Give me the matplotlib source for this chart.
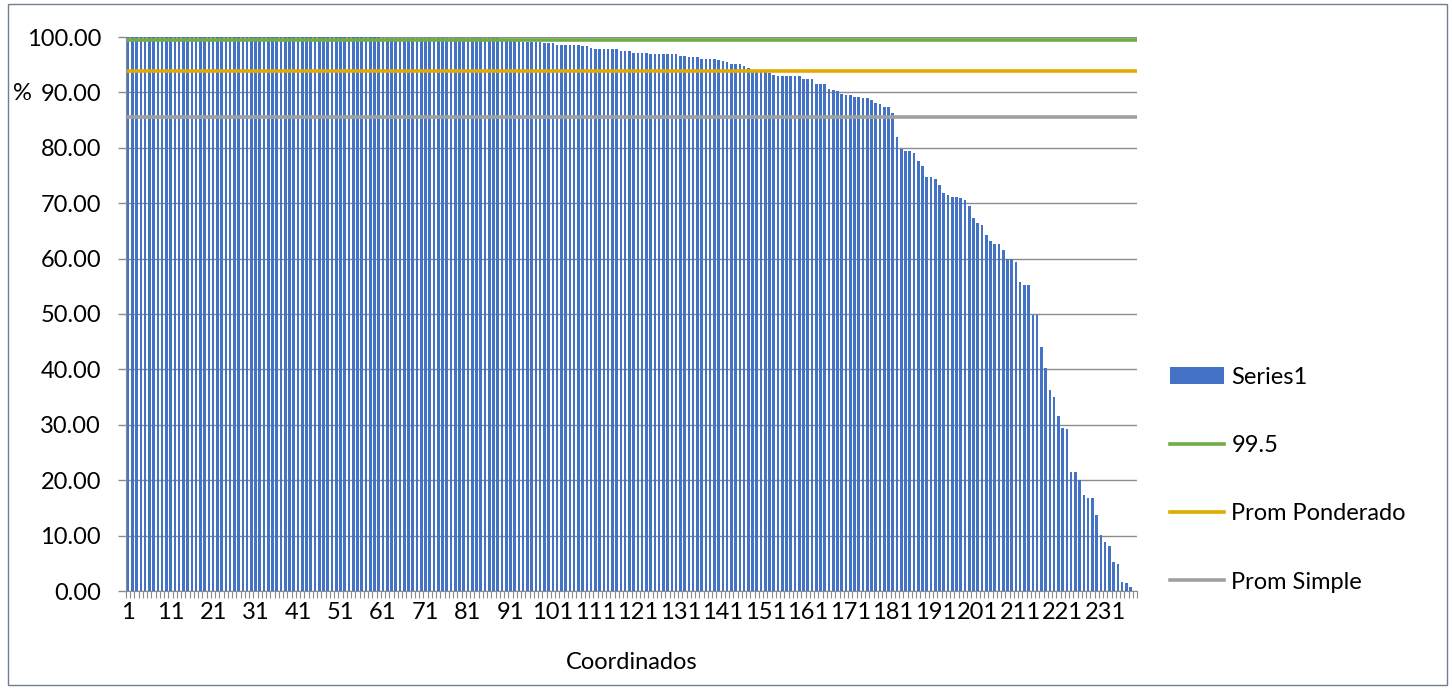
import matplotlib.pyplot as plt
from matplotlib.patches import Rectangle
from matplotlib.ticker import FixedLocator, FormatStrFormatter

plt.rcParams['font.family'] = ['Lato', 'DejaVu Sans']

# porcentaje por coordinado (ordenado de mayor a menor)
valores = [
    100.0, 100.0, 100.0, 100.0, 100.0, 100.0, 100.0, 100.0, 100.0, 100.0,
    100.0, 100.0, 100.0, 100.0, 100.0, 100.0, 100.0, 100.0, 100.0, 100.0,
    100.0, 100.0, 100.0, 100.0, 100.0, 100.0, 100.0, 100.0, 100.0, 100.0,
    100.0, 100.0, 100.0, 100.0, 100.0, 100.0, 100.0, 100.0, 100.0, 100.0,
    100.0, 100.0, 100.0, 100.0, 100.0, 100.0, 100.0, 100.0, 100.0, 100.0,
    100.0, 100.0, 100.0, 100.0, 100.0, 100.0, 100.0, 100.0, 100.0, 100.0,
    99.9, 99.9, 99.9, 99.9, 99.9, 99.9, 99.9, 99.9, 99.9, 99.9,
    99.9, 99.9, 99.9, 99.9, 99.9, 99.9, 99.9, 99.9, 99.9, 99.9,
    99.8, 99.8, 99.8, 99.8, 99.8, 99.8, 99.8, 99.8, 99.6, 99.6,
    99.6, 99.6, 99.6,
    99.1, 99.1, 99.1, 99.1, 99.1, 98.9, 98.9, 98.9,
    98.6, 98.6, 98.6, 98.6, 98.6, 98.6, 98.3, 98.3, 98.1,
    97.8, 97.8, 97.8, 97.8, 97.8, 97.8, 97.5, 97.5, 97.5,
    97.2, 97.2, 97.2, 97.2, 97.0,
    96.9, 96.9, 96.9, 96.9, 96.9, 96.9, 96.6, 96.6,
    96.3, 96.3, 96.3, 96.1, 96.1, 96.1, 96.1,
    95.9, 95.6, 95.4, 95.1, 95.1, 95.1, 94.8, 94.4,
    94.1, 94.0, 93.9, 93.7, 93.5, 93.2,
    93.0, 93.0, 93.0, 93.0, 93.0, 93.0,
    92.4, 92.4, 92.4, 91.6, 91.6, 91.6,
    90.6, 90.4, 90.3, 89.7, 89.5, 89.5, 89.2, 89.2, 89.0, 88.9,
    88.6, 88.1, 87.9, 87.4, 87.4, 86.3,
    81.9, 79.8, 79.5, 79.4, 79.0, 77.7, 76.8, 74.7, 74.7, 74.3,
    73.3, 71.8, 71.4, 71.2, 71.2, 71.0, 70.5, 69.5, 67.3, 66.4,
    66.1, 64.2, 63.1, 62.7, 62.7, 61.6, 60.0, 60.0, 59.4, 55.8,
    55.2, 55.2, 49.8, 49.8, 44.1, 40.2, 36.3, 35.0, 31.6, 29.4,
    29.2, 21.4, 21.4, 20.1, 17.3, 16.7, 16.7, 13.7, 10.1, 8.8,
    8.1, 5.2, 4.9, 1.6, 1.4, 0.8, 0.0,
]
meta = 99.5
prom_ponderado = 93.9
prom_simple = 85.6

W, H = 1452, 689
fig = plt.figure(figsize=(W / 100, H / 100), dpi=100)
ax = fig.add_axes([126 / W, 1 - 591 / H, (1137 - 126) / W, (591 - 37) / H])

x = list(range(1, len(valores) + 1))
barras = ax.bar(x, valores, width=0.62, color='#4472C4', label='Series1', zorder=2)
l1 = ax.axhline(meta, color='#70AD47', lw=2.6, label='99.5', zorder=3)
l2 = ax.axhline(prom_ponderado, color='#E3AA00', lw=2.6, label='Prom Ponderado', zorder=3)
l3 = ax.axhline(prom_simple, color='#A0A0A0', lw=2.6, label='Prom Simple', zorder=3)

ax.set_xlim(0.5, len(valores) + 0.5)
ax.set_ylim(0, 100)
ax.set_yticks(range(0, 101, 10))
ax.yaxis.set_major_formatter(FormatStrFormatter('%.2f'))
ax.grid(axis='y', color='#8C8C8C', lw=1, zorder=1)

ax.set_xticks(x[::10])
ax.set_xticklabels([str(i) for i in x[::10]])
ax.xaxis.set_minor_locator(FixedLocator([i + 0.5 for i in range(len(valores) + 1)]))
ax.tick_params(axis='x', which='major', length=0, pad=8, labelsize=17)
ax.tick_params(axis='x', which='minor', length=5, width=0.8, color='#8C8C8C')
ax.tick_params(axis='y', length=6, width=1, color='#8C8C8C', pad=12, labelsize=17)

for s in ['top', 'right']:
    ax.spines[s].set_visible(False)
ax.spines['left'].set_color('#8C8C8C')
ax.spines['bottom'].set_color('#8C8C8C')
ax.spines['left'].set_zorder(4)

ax.set_xlabel('Coordinados', fontsize=17, labelpad=21)
fig.text(13 / W, 1 - 93 / H, '%', fontsize=17, va='center', ha='left')

fig.legend(handles=[barras, l1, l2, l3], loc='upper left',
           bbox_to_anchor=(1170 / W, 1 - 367 / H),
           frameon=False, fontsize=17, labelspacing=2.0, handlelength=2.3,
           handletextpad=0.3, borderpad=0, borderaxespad=0)

fig.patches.append(Rectangle((8 / W, 4 / H), (1447 - 8) / W, (685 - 4) / H,
                             transform=fig.transFigure, fill=False,
                             edgecolor='#6F7F8F', lw=1))

fig.savefig('out.png', dpi=100)
